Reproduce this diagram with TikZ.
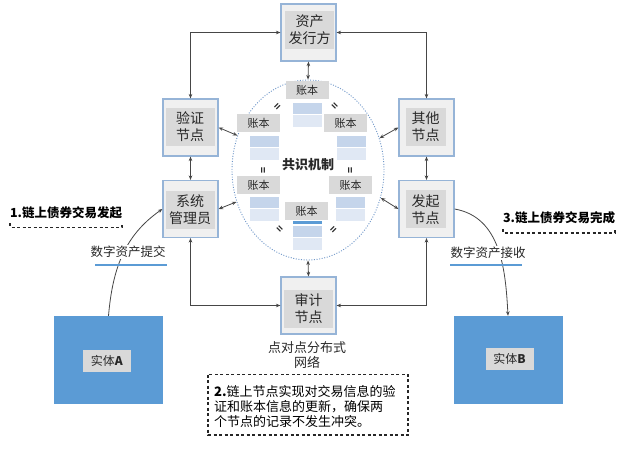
\documentclass[tikz,border=0pt]{standalone}
\usepackage{fontspec}
\setmainfont{Noto Sans CJK SC}
\usetikzlibrary{arrows.meta,shapes.geometric}
\definecolor{boxblue}{RGB}{150,180,215}
\definecolor{boxfill}{RGB}{240,240,240}
\definecolor{innergray}{RGB}{217,217,217}
\definecolor{entblue}{RGB}{91,155,213}
\definecolor{ledA}{RGB}{197,213,235}
\definecolor{ledB}{RGB}{224,232,244}
\definecolor{ellblue}{RGB}{110,150,200}
\definecolor{linegray}{RGB}{70,70,70}
\definecolor{textdark}{RGB}{40,40,40}
\tikzset{
  outerbox/.style={draw=boxblue, fill=boxfill, line width=1.2pt, minimum width=55pt, minimum height=57pt, inner sep=0pt},
  innerbox/.style={fill=innergray, minimum width=49pt, minimum height=38pt, inner sep=0pt, align=center, font=\fontsize{14}{17}\selectfont, text=textdark},
  tip/.tip={Stealth[length=4.5pt,width=3.6pt]},
  conn/.style={draw=linegray, line width=0.8pt, tip-tip},
  curvearrow/.style={draw=linegray, line width=0.8pt, -tip},
  ledlab/.style={fill=innergray, minimum width=43pt, minimum height=18pt, inner sep=0pt, font=\fontsize{11}{13}\selectfont, text=textdark},
  ledr1/.style={fill=ledA, minimum width=29pt, minimum height=11pt, inner sep=0pt},
  ledr2/.style={fill=ledB, minimum width=29pt, minimum height=12pt, inner sep=0pt},
  eqmark/.style={font=\fontsize{10}{10}\selectfont\bfseries, text=textdark, inner sep=0pt},
  entity/.style={fill=entblue, minimum width=109pt, minimum height=88pt, inner sep=0pt},
  entlab/.style={fill=innergray, minimum width=48pt, minimum height=22pt, inner sep=0pt, font=\fontsize{12}{14}\selectfont, text=textdark},
  flowlab/.style={fill=white, inner sep=1pt, font=\fontsize{12.5}{14}\selectfont, text=textdark},
  steplab/.style={inner sep=0pt, font=\fontsize{12.5}{14}\selectfont\bfseries, text=black},
  dashline/.style={draw=black!85, line width=1.3pt, dash pattern=on 3pt off 2.5pt},
  uline/.style={draw=entblue, line width=2pt},
  pics/ledger/.style n args={3}{code={
    \node[ledlab] (-lab) at (0,0) {账本};
    \node[ledr1] (-r1) at (#1,#2) {};
    \node[ledr2] (-r2) at (#1,#3) {};
  }}
}
\begin{document}
\begin{tikzpicture}[x=1pt,y=-1pt]
\useasboundingbox (0,0) rectangle (640,457);

% consensus ellipse
\node[draw=ellblue, line width=0.9pt, dash pattern=on 1pt off 1.6pt, ellipse, minimum width=152pt, minimum height=180pt, inner sep=0pt] (cons) at (308,170) {};
\node[font=\fontsize{13}{15}\selectfont\bfseries, text=textdark, inner sep=0pt] (consT) at (308,165) {共识机制};

% ledgers
\pic (LT) at (307,90) {ledger={0.5}{18.5}{31}};
\pic (LUL) at (258.5,123) {ledger={5.5}{18.5}{31}};
\pic (LUR) at (345.5,123) {ledger={5.5}{18.5}{31}};
\pic (LLL) at (258.5,185.5) {ledger={5.5}{17}{29.5}};
\pic (LLR) at (350.5,185.5) {ledger={0}{17}{29.5}};
\pic (LB) at (306.5,211.5) {ledger={1}{20}{33}};
\node[fill=entblue, minimum width=29pt, minimum height=2.5pt, inner sep=0pt] (LBstrip) at (307.5,222.5) {};

% equality marks
\node[eqmark, rotate=45] (e1) at (278,107) {=};
\node[eqmark, rotate=-45] (e2) at (334,107) {=};
\node[eqmark, rotate=90] (e3) at (264,170) {=};
\node[eqmark, rotate=90] (e4) at (351,170) {=};
\node[eqmark, rotate=-45] (e5) at (279,230) {=};
\node[eqmark, rotate=45] (e6) at (334,230) {=};

% node boxes
\node[outerbox] (issuer) at (308.5,32.5) {};
\node[innerbox] (issuerT) at (309.5,30) {资产\\发行方};
\node[outerbox] (verify) at (190.5,127.5) {};
\node[innerbox] (verifyT) at (190,127) {验证\\节点};
\node[outerbox] (other) at (426.5,127.5) {};
\node[innerbox, minimum width=40pt] (otherT) at (425.5,127) {其他\\节点};
\node[outerbox] (admin) at (190.5,209) {};
\node[innerbox] (adminT) at (190,210) {系统\\管理员};
\node[outerbox] (launch) at (426.5,209) {};
\node[innerbox, minimum width=40pt] (launchT) at (425.5,209.5) {发起\\节点};
\node[outerbox] (audit) at (308.5,305.5) {};
\node[innerbox] (auditT) at (308.5,309) {审计\\节点};

% network connectors
\draw[conn] (issuer.west) -| (verify.north);
\draw[conn] (issuer.east) -| (other.north);
\draw[conn] (issuer.south) -- (cons.north);
\draw[conn] (verify.south) -- (admin.north);
\draw[conn] (other.south) -- (launch.north);
\draw[conn] (verify.east) -- (cons.154);
\draw[conn] (other.west) -- (cons.24);
\draw[conn] (admin.east) -- (cons.204);
\draw[conn] (launch.west) -- (cons.-21);
\draw[conn] (cons.south) -- (audit.north);
\draw[conn] (admin.south) |- (audit.west);
\draw[conn] (launch.south) |- (audit.east);

% entities
\node[entity] (entA) at (108.5,360) {};
\node[entlab] (entAT) at (107,361) {实体\textbf{A}};
\node[entity] (entB) at (508,360) {};
\node[entlab] (entBT) at (509.5,359) {实体\textbf{B}};

% curved flows
\draw[curvearrow] (entA.north) to[out=85,in=215] (admin.west);
\node[flowlab] (submit) at (128,252) {数字资产提交};
\draw[uline] (95,265.5) -- (167,265.5);
\draw[curvearrow] (launch.east) to[out=-10,in=93] (entB.north);
\node[flowlab] (receive) at (488,253) {数字资产接收};
\draw[uline] (450,265.5) -- (522,265.5);

% step labels
\node[steplab] (s1) at (66,213) {1.链上债券交易发起};
\draw[dashline] (10,223.5) -- (10,227.5) -- (122,227.5) -- (122,223.5);
\node[steplab] (s3) at (559,217.5) {3.链上债券交易完成};
\draw[dashline] (503,229) -- (503,233) -- (615,233) -- (615,229);

\node[align=center, inner sep=0pt, font=\fontsize{13}{15}\selectfont, text=textdark] (p2p) at (307,355) {点对点分布式\\网络};

\draw[dashline] (208,374.5) rectangle (408,435);
\node[anchor=west, align=left, inner sep=0pt, font=\fontsize{13}{15}\selectfont, text=black] (s2) at (214,407) {\textbf{2.}链上节点实现对交易信息的验\\证和账本信息的更新，确保两\\个节点的记录不发生冲突。};
\end{tikzpicture}
\end{document}
